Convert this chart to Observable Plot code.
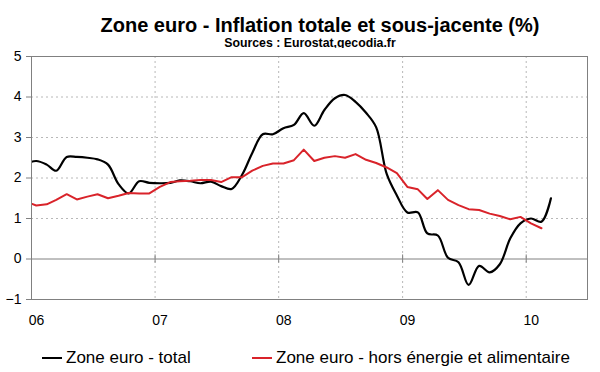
<!DOCTYPE html>
<html>
<head>
<meta charset="utf-8">
<script src="https://cdn.jsdelivr.net/npm/d3@7"></script>
<script src="https://cdn.jsdelivr.net/npm/@observablehq/plot@0.6"></script>
<style>
  body { margin: 0; background: #fff; font-family: "Liberation Sans", Arial, sans-serif; }
  #wrap { position: relative; width: 600px; height: 372px; overflow: hidden; background: #fff; }
  .t { position: absolute; white-space: nowrap; color: #000; }
  #title { left: 0; top: 15px; width: 560px; padding-left: 40px; text-align: center; font-weight: bold; font-size: 20px; line-height: 20px; }
  #sub { left: 0; top: 37px; width: 580px; padding-left: 20px; text-align: center; font-weight: bold; font-size: 12.3px; line-height: 12.3px; }
  #chart { position: absolute; left: 0; top: 48px; }
  .sw { position: absolute; height: 2px; width: 20px; top: 357px; }
  .lg { font-size: 17px; line-height: 17px; top: 349px; }
</style>
</head>
<body>
<div id="wrap">
  <div class="t" id="title">Zone euro - Inflation totale et sous-jacente (%)</div>
  <div class="t" id="sub">Sources : Eurostat,gecodia.fr</div>
  <div id="chart"></div>
  <div class="sw" style="left:42px;background:#000;"></div>
  <div class="t lg" style="left:66px;">Zone euro - total</div>
  <div class="sw" style="left:252px;background:#d9232a;"></div>
  <div class="t lg" style="left:276px;">Zone euro - hors énergie et alimentaire</div>
</div>
<script>
// Monthly observations, Dec 2005 .. Mar 2010
const firstMonth = "2005-12";
const seriesNames = ["Zone euro - total", "Zone euro - hors énergie et alimentaire"];
const totalValues = [2.35,
  2.42, 2.33, 2.18, 2.52, 2.52, 2.50, 2.46, 2.33, 1.85, 1.62, 1.92, 1.88,
  1.87, 1.88, 1.94, 1.92, 1.87, 1.91, 1.80, 1.73, 2.08, 2.62, 3.08, 3.08,
  3.23, 3.31, 3.60, 3.29, 3.68, 3.97, 4.05, 3.88, 3.61, 3.25, 2.10, 1.57,
  1.15, 1.15, 0.63, 0.58, 0.03, -0.08, -0.64, -0.17, -0.33, -0.13, 0.51, 0.88,
  1.00, 0.92, 1.50];
const coreValues = [1.42,
  1.32, 1.35, 1.46, 1.60, 1.47, 1.54, 1.60, 1.50, 1.56, 1.63, 1.62, 1.62,
  1.78, 1.90, 1.92, 1.93, 1.95, 1.95, 1.90, 2.02, 2.02, 2.18, 2.30, 2.36,
  2.36, 2.44, 2.70, 2.42, 2.50, 2.54, 2.50, 2.59, 2.45, 2.37, 2.26, 2.12,
  1.78, 1.72, 1.48, 1.70, 1.46, 1.33, 1.23, 1.21, 1.12, 1.06, 0.98, 1.04,
  0.88, 0.76];
const yearTicks = ["2006-01-01", "2007-01-01", "2008-01-01", "2009-01-01", "2010-01-01"];
const yTicks = [-1, 0, 1, 2, 3, 4, 5];
const xDomain = ["2006-01-01", "2010-07-01"];

const start = new Date(firstMonth + "-01T00:00:00Z");
const monthDate = i => d3.utcDay.offset(d3.utcMonth.offset(start, i), 14);
const totalData = totalValues.map((v, i) => ({date: monthDate(i), value: v}));
const coreData = coreValues.map((v, i) => ({date: monthDate(i), value: v}));
const years = yearTicks.map(s => new Date(s + "T00:00:00Z"));

const grey = "#808080";
const chart = Plot.plot({
  width: 600,
  height: 290,
  marginLeft: 31,
  marginRight: 13,
  marginTop: 8,
  marginBottom: 39,
  style: {fontFamily: "Liberation Sans, Arial, sans-serif", fontSize: "14px", color: "#000", background: "#fff", overflow: "visible"},
  x: {type: "utc", domain: xDomain.map(s => new Date(s + "T00:00:00Z")), label: null},
  y: {domain: [-1, 5], label: null},
  marks: [
    Plot.gridX(years.slice(1), {stroke: "#b8b8b8", strokeOpacity: 1, strokeDasharray: "2,3"}),
    Plot.gridY(yTicks.filter(v => v > 0 && v < 5), {stroke: "#b8b8b8", strokeOpacity: 1, strokeDasharray: "2,3"}),
    Plot.ruleY([0], {stroke: grey}),
    Plot.ruleX(years, {x: d => d, y1: -0.1, y2: 0.1, stroke: grey}),
    Plot.line(totalData, {x: "date", y: "value", stroke: "#000", strokeWidth: 2.2, curve: "catmull-rom", clip: true}),
    Plot.line(coreData, {x: "date", y: "value", stroke: "#d9232a", strokeWidth: 2, clip: true}),
    Plot.frame({stroke: grey}),
    Plot.axisY(yTicks, {tickSize: 5, tickPadding: 5, stroke: grey, fill: "#000", fontSize: 14, label: null}),
    Plot.axisX(years, {tickSize: 0, tickPadding: 16, tickFormat: d3.utcFormat("%y"), dx: 5, fill: "#000", fontSize: 14, label: null})
  ]
});
document.getElementById("chart").appendChild(chart);
</script>
</body>
</html>
